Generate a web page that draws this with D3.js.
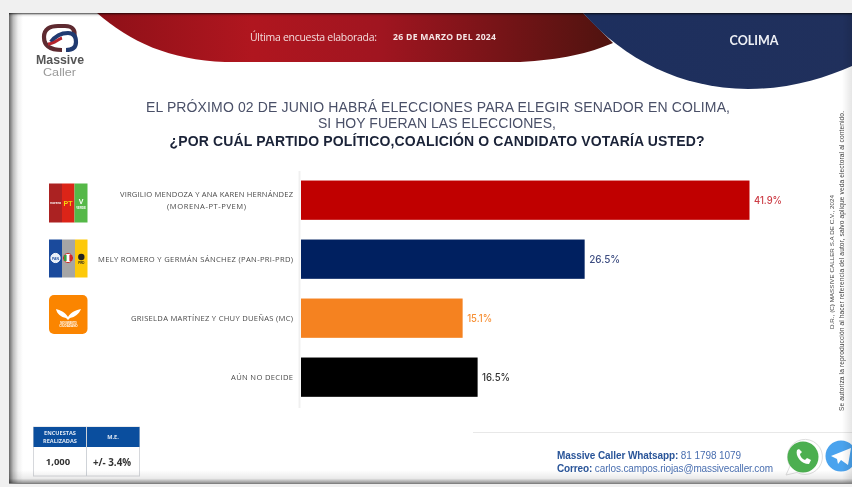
<!DOCTYPE html>
<html lang="es"><head><meta charset="utf-8">
<script src="https://cdn.jsdelivr.net/npm/d3@7"></script>
<style>html,body{margin:0;padding:0;background:#f0f0f0;overflow:hidden}svg{display:block;filter:blur(.45px)}</style>
</head><body><div id="c"></div>
<script>
const categories=["VIRGILIO MENDOZA Y ANA KAREN HERNÁNDEZ (MORENA-PT-PVEM)","MELY ROMERO Y GERMÁN SÁNCHEZ (PAN-PRI-PRD)","GRISELDA MARTÍNEZ Y CHUY DUEÑAS (MC)","AÚN NO DECIDE"];
const labelLines=[["VIRGILIO MENDOZA Y ANA KAREN HERNÁNDEZ","(MORENA-PT-PVEM)"],["MELY ROMERO Y GERMÁN SÁNCHEZ (PAN-PRI-PRD)"],["GRISELDA MARTÍNEZ Y CHUY DUEÑAS (MC)"],["AÚN NO DECIDE"]];
const values=[41.9,26.5,15.1,16.5];
const barColors=["#c00000","#002060","#f58220","#000000"];
const valueColors=["#cc3b44","#3c4c80","#f79035","#333333"];
const titleLines=["EL PRÓXIMO 02 DE JUNIO HABRÁ ELECCIONES  PARA ELEGIR SENADOR  EN COLIMA,","SI HOY FUERAN  LAS ELECCIONES,","¿POR CUÁL  PARTIDO POLÍTICO,COALICIÓN  O CANDIDATO  VOTARÍA  USTED?"];

const W=852,H=487;
const svg=d3.select("#c").append("svg").attr("width",W).attr("height",H);
const defs=svg.append("defs");
function grad(id,dir,stops){const g=defs.append("linearGradient").attr("id",id);
  if(dir==="v")g.attr("x1",0).attr("x2",0).attr("y1",0).attr("y2",1);
  stops.forEach(s=>g.append("stop").attr("offset",s[0]).attr("stop-color",s[1]).attr("stop-opacity",s[2]===undefined?1:s[2]));}
grad("red","h",[[0,"#8e1018"],[.3,"#b0161f"],[.55,"#a01520"],[1,"#4f130f"]]);
grad("navy","h",[[0,"#1d2f5e"],[1,"#20305c"]]);
grad("shL","h",[[0,"#000",.6],[.3,"#000",.26],[.65,"#000",.06],[1,"#000",0]]);
grad("shT","v",[[0,"#000",.7],[.5,"#000",.1],[1,"#000",0]]);
grad("shB","v",[[0,"#000",0],[.6,"#000",.08],[1,"#000",.5]]);
grad("shR","h",[[0,"#000",0],[1,"#000",.1]]);

// page
svg.append("rect").attr("x",9).attr("y",13).attr("width",W-9).attr("height",470).attr("fill","#fff");
// banners
svg.append("path").attr("d","M97,13C130,42 170,60 225,62L520,62C560,60 590,53 613,43L583,13Z").attr("fill","url(#red)");
svg.append("path").attr("d","M583,13C625,60 680,88 748,89C790,89 825,78 852,66L852,13Z").attr("fill","url(#navy)");
svg.append("text").attr("x",250).attr("y",41).attr("font-family","'Open Sans'").attr("font-size",10.5).attr("fill","#f3dcdc").attr("textLength",127).text("Última encuesta elaborada:");
svg.append("text").attr("x",393).attr("y",40).attr("font-family","'Open Sans'").attr("font-weight",700).attr("font-size",8.6).attr("fill","#f5e6e6").attr("textLength",103).text("26 DE MARZO DEL 2024");
svg.append("text").attr("x",754).attr("y",45).attr("text-anchor","middle").attr("font-family","Lato").attr("font-weight",700).attr("font-size",12.5).attr("fill","#eef0f5").text("COLIMA");

// logo
const lg=svg.append("g").attr("fill","none").attr("stroke-width",4.2);
lg.append("path").attr("d","M62,50C50,50 44,46 44,37C44,29 50,26 58,26L65,26C73,26 76,31 74,37").attr("stroke","#5e2a30");
lg.append("path").attr("d","M51,42C56,35 62,33 68,33C75,33 76,38 76,42C76,48 72,50 66,50").attr("stroke","#203a70");
lg.append("path").attr("d","M48,44C54,44 58,39 62,38").attr("stroke","#b5232c").attr("stroke-width",3);
svg.append("text").attr("x",36).attr("y",63.5).attr("font-family","'Liberation Sans'").attr("font-weight",700).attr("font-size",12.5).attr("fill","#555").attr("textLength",48).attr("lengthAdjust","spacingAndGlyphs").text("Massive");
svg.append("text").attr("x",43).attr("y",75.5).attr("font-family","'Liberation Sans'").attr("font-size",10.5).attr("fill","#999").attr("textLength",33).attr("lengthAdjust","spacingAndGlyphs").text("Caller");

// title
const tg=svg.append("g").attr("text-anchor","middle").attr("font-family","'Liberation Sans'").attr("style","white-space:pre");
const tx=[438,437,437],ty=[112,128,146],tw=[584,238,535];
titleLines.forEach((t,i)=>tg.append("text").attr("x",tx[i]).attr("y",ty[i]).attr("font-size",14).attr("font-weight",i===2?700:400).attr("fill",i===2?"#1b2338":"#4a5068").attr("textLength",tw[i]).attr("lengthAdjust","spacing").text(t));

// scales
const x=d3.scaleLinear().domain([0,41.9]).range([301,749.5]);
const y=d3.scaleBand().domain(categories).range([170.5,406.85]).paddingInner(.334).paddingOuter(.17);
svg.append("line").attr("x1",299.5).attr("x2",299.5).attr("y1",171).attr("y2",408).attr("stroke","#f0f0f0").attr("stroke-width",2);
svg.selectAll("rect.bar").data(categories).join("rect").attr("class","bar")
  .attr("x",x(0)).attr("y",d=>y(d)).attr("height",y.bandwidth())
  .attr("width",(d,i)=>x(values[i])-x(0)).attr("fill",(d,i)=>barColors[i]);
const vw=[28,31,25,28];
svg.selectAll("text.val").data(categories).join("text").attr("class","val")
  .attr("x",(d,i)=>x(values[i])+4.5).attr("y",d=>y(d)+y.bandwidth()/2+4)
  .attr("font-family","Inter").attr("font-weight",500).attr("font-size",10.5).attr("fill",(d,i)=>valueColors[i])
  .attr("textLength",(d,i)=>vw[i]).attr("lengthAdjust","spacingAndGlyphs")
  .text((d,i)=>values[i].toFixed(1)+"%");
const lw=[[173,79],[195],[162],[62]];
categories.forEach((c,i)=>{
  const n=labelLines[i].length,cy=y(c)+y.bandwidth()/2;
  labelLines[i].forEach((l,j)=>svg.append("text").attr("x",i===0&&j===1?167:293-lw[i][j]).attr("y",cy+2.5+(j-(n-1)/2)*12)
    .attr("font-family","'Open Sans'").attr("font-weight",500).attr("font-size",7.6).attr("fill","#4a4a4a")
    .attr("textLength",lw[i][j]).attr("lengthAdjust","spacing").text(l));
});

// party emblems
function strip(xs,yy,wd,h,c){svg.append("rect").attr("x",xs).attr("y",yy).attr("width",wd).attr("height",h).attr("fill",c);}
function tiny(t,xx,yy,s,c,w){svg.append("text").attr("x",xx).attr("y",yy).attr("text-anchor","middle").attr("font-family","'Liberation Sans'").attr("font-weight",w||700).attr("font-size",s).attr("fill",c).text(t);}
strip(49,183.5,13,39,"#ab2222");strip(62,183.5,12.5,39,"#dc2418");strip(74.5,183.5,13,39,"#55b848");
tiny("morena",55.5,204,3,"#fff");tiny("PT",68,206,7,"#f5d60f");tiny("V",81,204,7,"#fff");tiny("VERDE",81,208.5,2.8,"#fff");
strip(49,239.5,13,38,"#1a4a9c");strip(62,239.5,13,38,"#a5a5a5");strip(75,239.5,12.5,38,"#fdc90a");
svg.append("circle").attr("cx",55.5).attr("cy",258).attr("r",4.6).attr("fill","#e8eef8").attr("stroke","#fff");
tiny("PAN",55.5,259.5,3.4,"#1a4a9c");
svg.append("circle").attr("cx",68).attr("cy",258).attr("r",4.6).attr("fill","#fff").attr("stroke","#c9302c");
svg.append("rect").attr("x",64).attr("y",255).attr("width",2.6).attr("height",6).attr("fill","#3a9b3f");
svg.append("rect").attr("x",69.4).attr("y",255).attr("width",2.6).attr("height",6).attr("fill","#d4242a");
svg.append("circle").attr("cx",81.3).attr("cy",257).attr("r",3.2).attr("fill","#222");
tiny("PRD",81.3,264,3,"#222");
svg.append("rect").attr("x",49).attr("y",295).attr("width",38.5).attr("height",39).attr("rx",5).attr("fill","#fb8500");
svg.append("path").attr("d","M56,309C60,310 65,312 68,317C71,312 76,310 81,309C79,314 75,317 70,318L68,320L66,318C61,317 57,314 56,309Z").attr("fill","#fff");
tiny("MOVIMIENTO",68.5,323.5,2.6,"#fff");tiny("CIUDADANO",68.5,327,3,"#fff");

// survey box
svg.append("rect").attr("x",33.5).attr("y",427).attr("width",106).attr("height",49).attr("fill","#fff").attr("stroke","#d6d8dc");
svg.append("rect").attr("x",33.5).attr("y",427).attr("width",106).attr("height",20).attr("fill","#0a4e9e");
svg.append("line").attr("x1",86.5).attr("x2",86.5).attr("y1",427).attr("y2",476).attr("stroke","#cfd3d8");
const bx=svg.append("g").attr("text-anchor","middle").attr("font-family","'Open Sans'").attr("font-weight",700);
bx.append("text").attr("x",60).attr("y",435).attr("font-size",5.6).attr("fill","#dfe8f4").text("ENCUESTAS");
bx.append("text").attr("x",60).attr("y",443).attr("font-size",5.6).attr("fill","#dfe8f4").text("REALIZADAS");
bx.append("text").attr("x",113).attr("y",439).attr("font-size",5.6).attr("fill","#dfe8f4").text("M.E.");
bx.append("text").attr("x",58).attr("y",465).attr("font-size",9.5).attr("fill","#333").text("1,000");
bx.append("text").attr("x",112).attr("y",465.5).attr("font-size",9.8).attr("fill","#333").text("+/- 3.4%");

// contact
svg.append("line").attr("x1",473).attr("x2",852).attr("y1",432.5).attr("y2",432.5).attr("stroke","#e8e8e8");
const ct=svg.append("g").attr("font-family","'Liberation Sans'").attr("font-size",10);
const t1=ct.append("text").attr("x",557).attr("y",459).attr("textLength",184);
t1.append("tspan").attr("fill","#2a5599").attr("font-weight",700).text("Massive Caller Whatsapp: ");t1.append("tspan").attr("fill","#4a6fb0").text("81 1798 1079");
const t2=ct.append("text").attr("x",557).attr("y",471.5).attr("textLength",216);
t2.append("tspan").attr("fill","#2a5599").attr("font-weight",700).text("Correo: ");t2.append("tspan").attr("fill","#4a6fb0").text("carlos.campos.riojas@massivecaller.com");

// WhatsApp & Telegram
svg.append("path").attr("d","M786,475L790,466A17.5,17.5 0 1 1 797,472.5Z").attr("fill","#fff").attr("stroke","#ddd");
svg.append("circle").attr("cx",803).attr("cy",457).attr("r",15.5).attr("fill","#4caf50");
svg.append("path").attr("d","M797,450C795,456 801,464 809,464L811,460L807,458L805,460C802,459 800,456 800,454L802,452L799,449Z").attr("fill","#fff");
svg.append("circle").attr("cx",841).attr("cy",456).attr("r",15.5).attr("fill","#4aa3ee");
svg.append("path").attr("d","M831,456L851,448L848,465L841,460L838,464L837,459Z").attr("fill","#fff");

// vertical notes
const vt=svg.append("g").attr("font-family","'Liberation Sans'").attr("fill","#444");
vt.append("text").attr("transform","translate(834,329) rotate(-90)").attr("font-size",6.2).attr("textLength",134).text("D.R., (C) MASSIVE CALLER S.A DE C.V., 2024");
vt.append("text").attr("transform","translate(844,411) rotate(-90)").attr("font-size",6.6).attr("textLength",300).text("Se autoriza la reproducción al hacer referencia del autor, salvo aplique veda electoral al contenido.");

// shadows
svg.append("rect").attr("x",9).attr("y",13).attr("width",14).attr("height",470).attr("fill","url(#shL)");
svg.append("rect").attr("x",9).attr("y",13).attr("width",843).attr("height",4).attr("fill","url(#shT)");
svg.append("rect").attr("x",9).attr("y",470).attr("width",843).attr("height",14).attr("fill","url(#shB)");
svg.append("rect").attr("x",842).attr("y",13).attr("width",10).attr("height",470).attr("fill","url(#shR)");
</script></body></html>
